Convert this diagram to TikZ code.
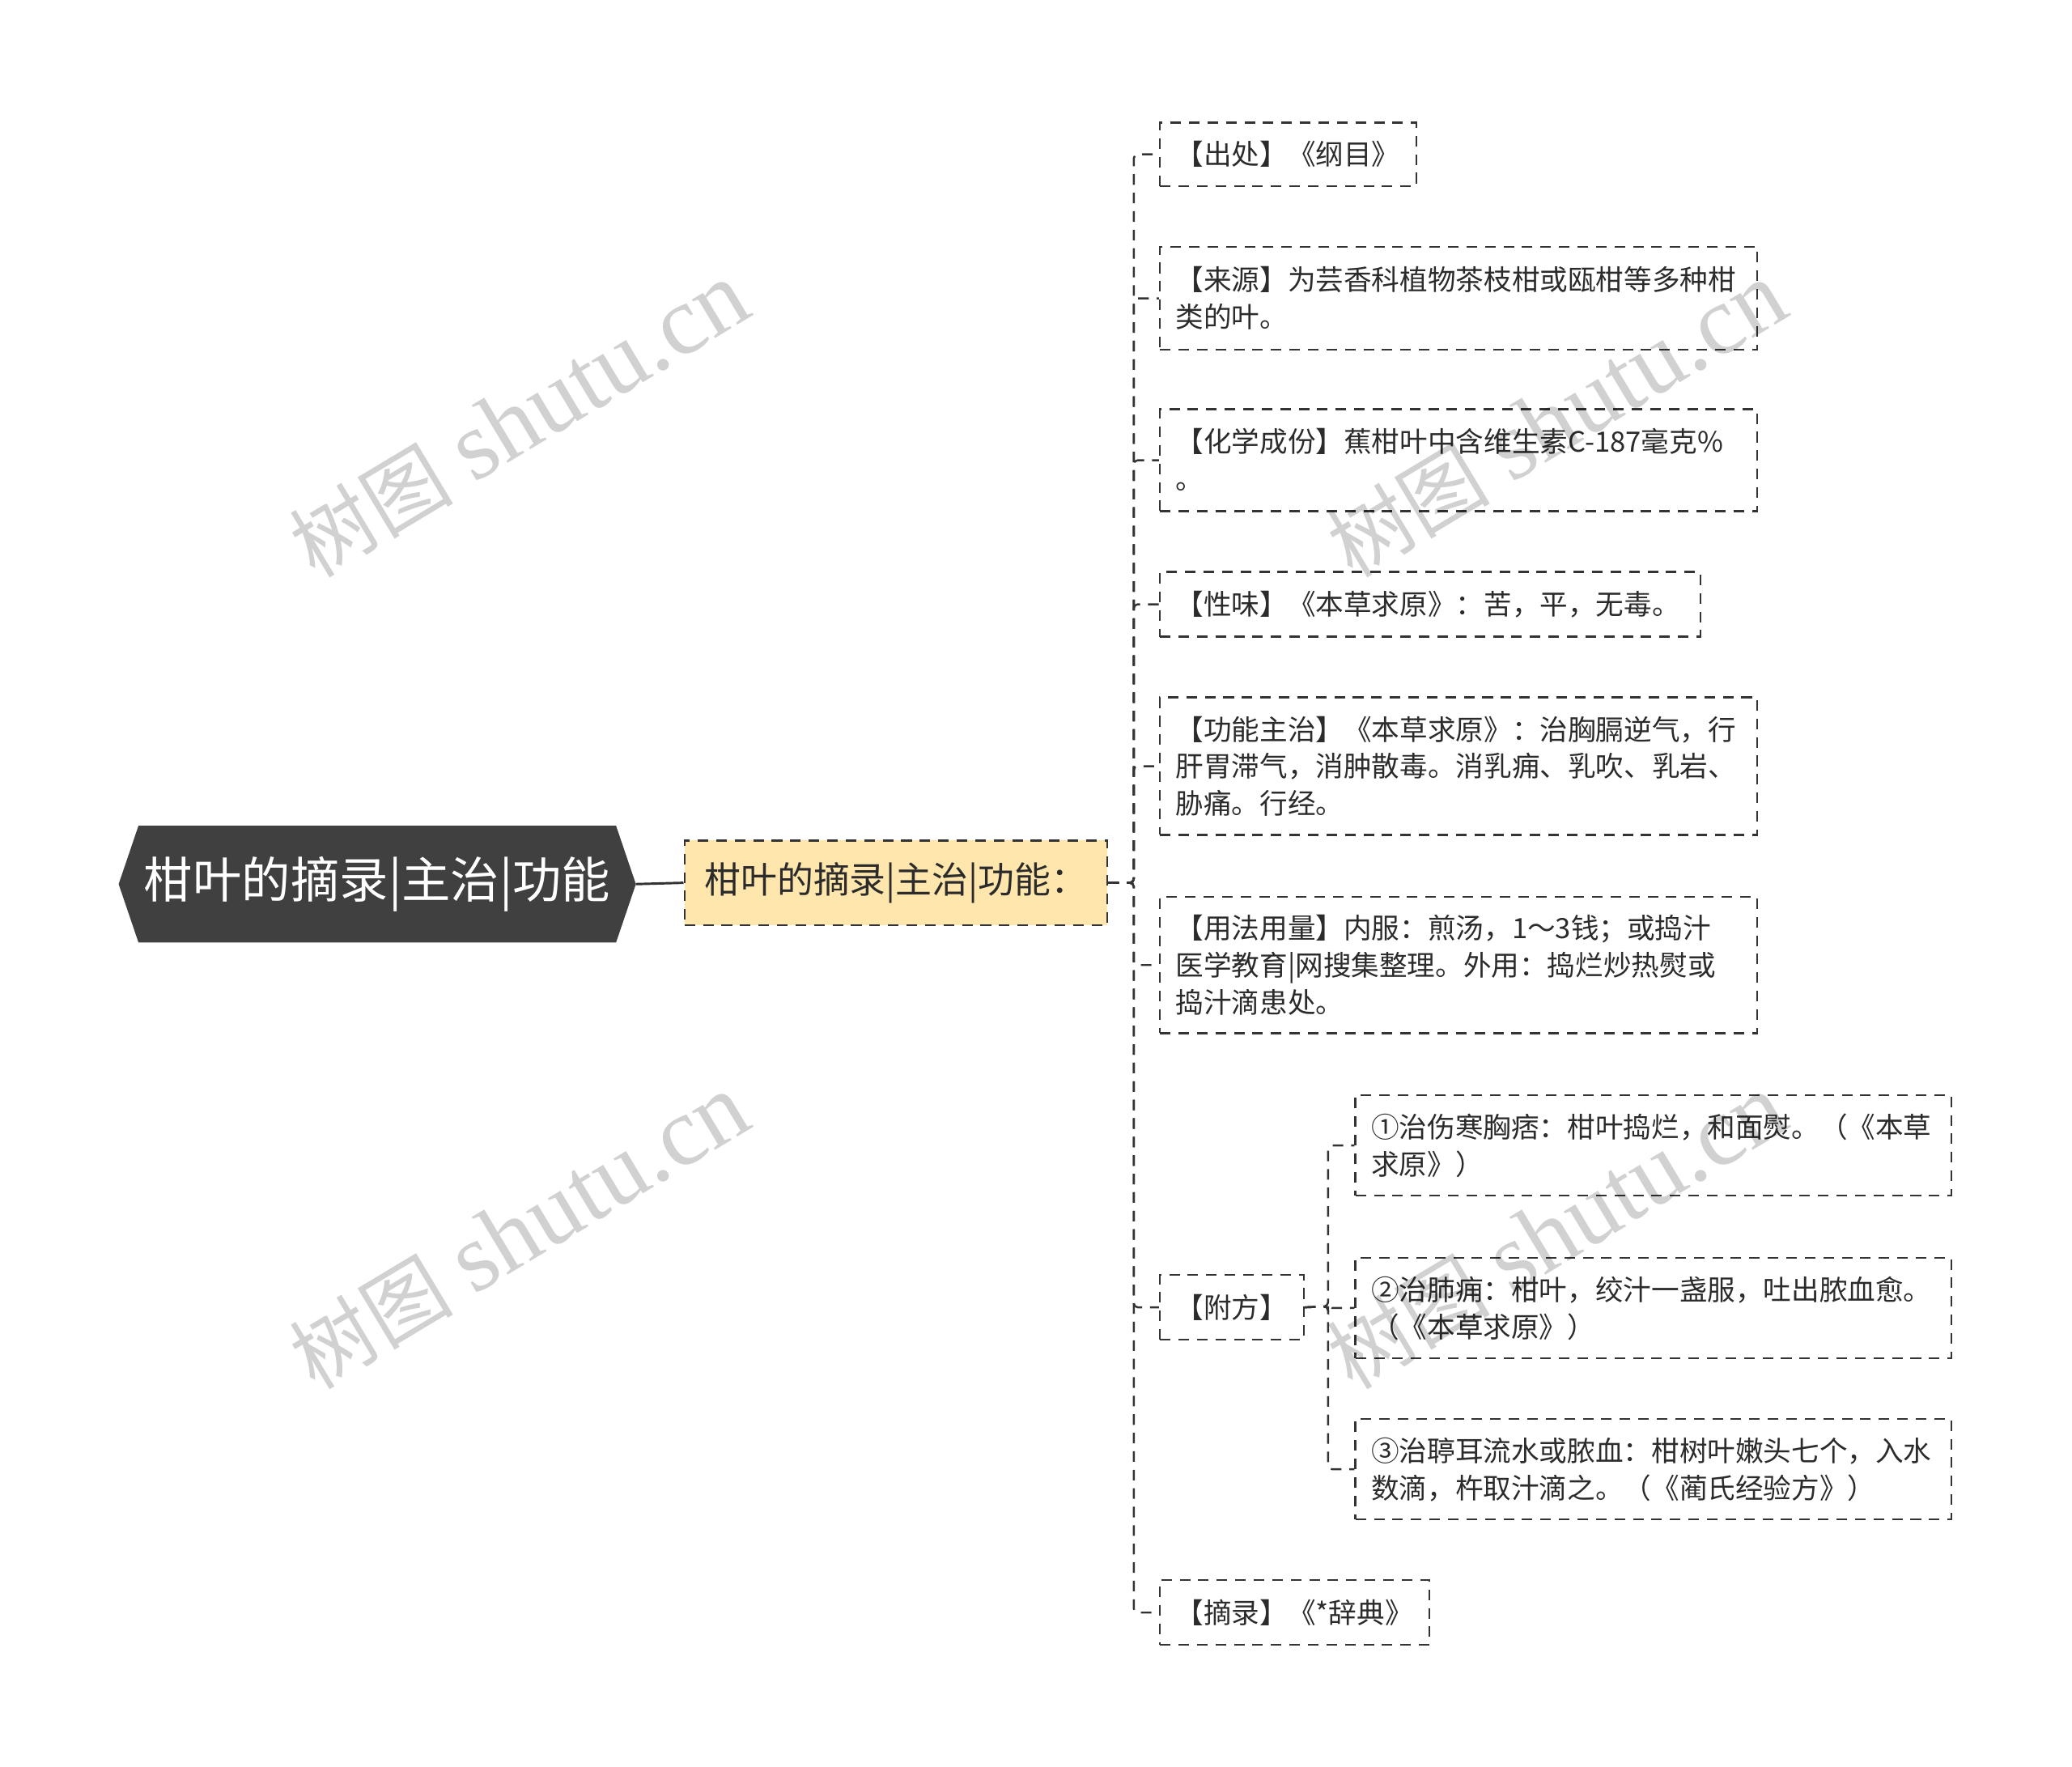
\documentclass[tikz,border=0pt]{standalone}
\usepackage{fontspec}
\newfontfamily\cjk{Noto Sans CJK SC}
\newfontfamily\wmserif{Liberation Serif}
\usetikzlibrary{backgrounds,calc}
\definecolor{rootfill}{HTML}{404040}
\definecolor{subfill}{HTML}{FFE6AD}
\definecolor{linec}{HTML}{333333}
\definecolor{txt}{HTML}{2B2B2B}
\newcommand{\bl}[2]{\raisebox{-2.5pt}[\height][\depth]{\makebox[#1][l]{\begin{tabular}{@{}l@{}}#2\end{tabular}}}}
\newcommand{\wmtext}{{\cjk\fontsize{62}{64}\selectfont 树图}\hspace{16pt}{\wmserif\fontsize{74}{80}\selectfont shutu.cn}}
\begin{document}
\begin{tikzpicture}[x=1pt,y=-1pt,
  dashline/.style={draw=linec, line width=1.5pt, dash pattern=on 8pt off 6pt},
  box/.style={dashline, anchor=north west, inner xsep=12pt, inner ysep=0pt,
    font=\cjk\fontsize{21.2}{28}\selectfont, text=txt},
  conn/.style={dashline, rounded corners=3pt},
  wm/.style={rotate=31, text=black, opacity=0.18, inner sep=0pt}
]
\useasboundingbox (0,0) rectangle (1568,1337);

% root
\node[minimum width=391pt, minimum height=88pt, inner sep=0pt, text=white,
  font=\cjk\fontsize{37}{40}\selectfont] (root) at (285.5,669) {柑叶的摘录|主治|功能};
\begin{scope}[on background layer]
\fill[rootfill] (root.west) -- ([xshift=15pt]root.north west) -- ([xshift=-15pt]root.north east)
  -- (root.east) -- ([xshift=-15pt]root.south east) -- ([xshift=15pt]root.south west) -- cycle;
\end{scope}

% sub node
\node[dashline, fill=subfill, minimum width=320pt, minimum height=64pt, inner sep=0pt,
  font=\cjk\fontsize{27.5}{30}\selectfont, text=txt] (sub) at (678,668) {柑叶的摘录|主治|功能：};

\draw[linec, line width=1.8pt] (root.east) -- (sub.west);

% children
\node[box, minimum height=48pt] (c1) at (877,92) {\bl{170pt}{【出处】《纲目》}};
\node[box, minimum height=78pt] (c2) at (877,186) {\bl{428pt}{【来源】为芸香科植物茶枝柑或瓯柑等多种柑\\类的叶。}};
\node[box, minimum height=77pt] (c3) at (877,309) {\bl{428pt}{【化学成份】蕉柑叶中含维生素C-187毫克\%\\。}};
\node[box, minimum height=49pt] (c4) at (877,432) {\bl{385pt}{【性味】《本草求原》：苦，平，无毒。}};
\node[box, minimum height=104pt] (c5) at (877,527) {\bl{428pt}{【功能主治】《本草求原》：治胸膈逆气，行\\肝胃滞气，消肿散毒。消乳痈、乳吹、乳岩、\\胁痛。行经。}};
\node[box, minimum height=103pt] (c6) at (877,678) {\bl{428pt}{【用法用量】内服：煎汤，1～3钱；或捣汁\\医学教育|网搜集整理。外用：捣烂炒热熨或\\捣汁滴患处。}};
\node[box, minimum height=49pt] (c7) at (877,964) {\bl{85pt}{【附方】}};
\node[box, minimum height=49pt] (c8) at (877,1195) {\bl{180pt}{【摘录】《*辞典》}};

\node[box, minimum height=76pt] (d1) at (1025,828) {\bl{427pt}{①治伤寒胸痞：柑叶捣烂，和面熨。（《本草\\求原》）}};
\node[box, minimum height=76pt] (d2) at (1025,951) {\bl{427pt}{②治肺痈：柑叶，绞汁一盏服，吐出脓血愈。\\（《本草求原》）}};
\node[box, minimum height=76pt] (d3) at (1025,1073) {\bl{427pt}{③治聤耳流水或脓血：柑树叶嫩头七个，入水\\数滴，杵取汁滴之。（《蔺氏经验方》）}};

% connectors
\coordinate (trunk) at (858,668);
\foreach \c in {c1,c2,c3,c4,c5,c6,c7,c8}{
  \draw[conn] (sub.east) -- (trunk) |- (\c.west);
}
\coordinate (t2) at (1005,988.5);
\foreach \c in {d1,d2,d3}{
  \draw[conn] (c7.east) -- (t2) |- (\c.west);
}

% watermarks
\node[wm] (wm1) at (393,318) {\wmtext};
\node[wm] (wm2) at (1178,318) {\wmtext};
\node[wm] (wm3) at (393,932) {\wmtext};
\node[wm] (wm4) at (1178,932) {\wmtext};
\end{tikzpicture}
\end{document}
